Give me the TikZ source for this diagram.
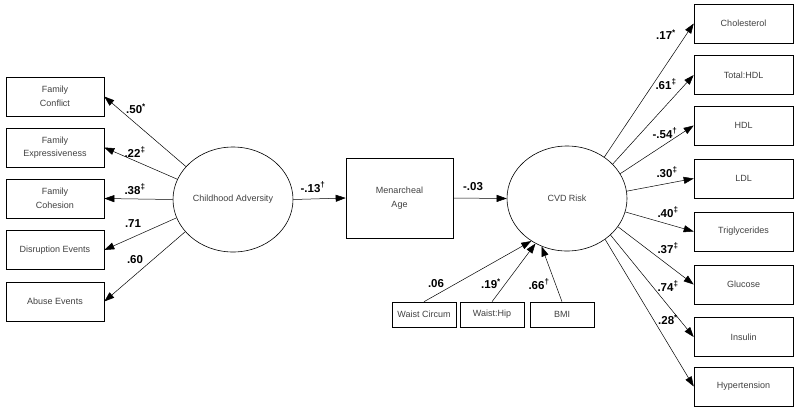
\documentclass[tikz,border=0pt]{standalone}
\usepackage{fontspec}
\setmainfont{Liberation Sans}
\usepackage{tikz}
\usetikzlibrary{shapes.geometric, arrows.meta}

\begin{document}
\begin{tikzpicture}[x=1pt, y=-1pt,
  box/.style={draw, line width=0.6pt, minimum width=98pt, minimum height=39pt,
    align=center, inner sep=1pt, font=\fontsize{9}{13.5}\selectfont, text=black!75},
  small/.style={box, minimum width=64pt, minimum height=25pt},
  latent/.style={draw, ellipse, line width=0.6pt, inner sep=0pt, minimum width=120pt,
    minimum height=105pt, font=\fontsize{9}{13.5}\selectfont, text=black!75},
  path/.style={-{Triangle[length=10pt,width=7pt]}, line width=0.5pt},
  coef/.style={font=\fontsize{11.5}{13}\selectfont\bfseries, inner sep=0pt}]
\useasboundingbox (0,0) rectangle (800,410);

% left indicators
\node[box] (fc) at (55,96.5) {Family\\Conflict};
\node[box] (fe) at (55,147.5) {Family\\Expressiveness};
\node[box] (fh) at (55,198.5) {Family\\Cohesion};
\node[box] (de) at (55,250) {Disruption Events};
\node[box] (ae) at (55,301.5) {Abuse Events};

% latent variables and mediator
\node[latent] (adv) at (233,199.5) {Childhood Adversity};
\node[box, minimum width=107pt, minimum height=80pt] (men) at (399.5,198) {Menarcheal\\Age};
\node[latent] (cvd) at (567,198.5) {CVD Risk};

% bottom covariates
\node[small] (wc) at (424,314.5) {Waist Circum};
\node[small] (wh) at (492,314.5) {Waist:Hip};
\node[small] (bmi) at (562,314.5) {BMI};

% right indicators
\node[box, minimum width=99pt] (chol) at (743.5,23.5) {Cholesterol};
\node[box, minimum width=99pt] (thdl) at (743.5,75) {Total:HDL};
\node[box, minimum width=99pt] (hdl) at (743.5,125.5) {HDL};
\node[box, minimum width=99pt] (ldl) at (743.5,178.5) {LDL};
\node[box, minimum width=99pt] (trig) at (743.5,231.5) {Triglycerides};
\node[box, minimum width=99pt] (glu) at (743.5,284.5) {Glucose};
\node[box, minimum width=99pt] (ins) at (743.5,337) {Insulin};
\node[box, minimum width=99pt] (hyp) at (743.5,386.5) {Hypertension};

% ========== paths ==========
% adversity -> indicators
\draw[path] (adv.145) -- (fc.east);
\draw[path] (adv.160) -- (fe.east);
\draw[path] (adv.180) -- (fh.east);
\draw[path] (adv.198) -- (de.east);
\draw[path] (adv.214) -- (ae.east);

% structural paths
\draw[path] (adv.east) -- (men.west);
\draw[path] (men.east) -- (cvd.west);

% covariates -> CVD risk
\draw[path] (wc.north) -- (cvd.230);
\draw[path] (wh.north) -- (cvd.235);
\draw[path] (bmi.north) -- (cvd.242);

% CVD risk -> indicators
\draw[path] (cvd.48) -- (chol.west);
\draw[path] (cvd.37) -- (thdl.west);
\draw[path] (cvd.25) -- (hdl.west);
\draw[path] (cvd.7) -- (ldl.west);
\draw[path] (cvd.-13) -- (trig.west);
\draw[path] (cvd.-29) -- (glu.west);
\draw[path] (cvd.-40) -- (ins.west);
\draw[path] (cvd.-47) -- (hyp.west);

% coefficients
\node[coef] (c1) at (136,109) {.50\textsuperscript{*}};
\node[coef] (c2) at (135,152) {.22\textsuperscript{‡}};
\node[coef] (c3) at (135,189) {.38\textsuperscript{‡}};
\node[coef] (c4) at (133,224) {.71};
\node[coef] (c5) at (135,260) {.60};
\node[coef] (c6) at (313,187) {-.13\textsuperscript{†}};
\node[coef] (c7) at (473,187) {-.03};
\node[coef] (c8) at (436,284) {.06};
\node[coef] (c9) at (491,284) {.19\textsuperscript{*}};
\node[coef] (c10) at (539,284) {.66\textsuperscript{†}};
\node[coef] (c11) at (666,35) {.17\textsuperscript{*}};
\node[coef] (c12) at (666,84) {.61\textsuperscript{‡}};
\node[coef] (c13) at (665,133) {-.54\textsuperscript{†}};
\node[coef] (c14) at (667,172) {.30\textsuperscript{‡}};
\node[coef] (c15) at (668,212) {.40\textsuperscript{‡}};
\node[coef] (c16) at (668,248) {.37\textsuperscript{‡}};
\node[coef] (c17) at (668,286) {.74\textsuperscript{‡}};
\node[coef] (c18) at (668,320) {.28\textsuperscript{*}};
\end{tikzpicture}
\end{document}
